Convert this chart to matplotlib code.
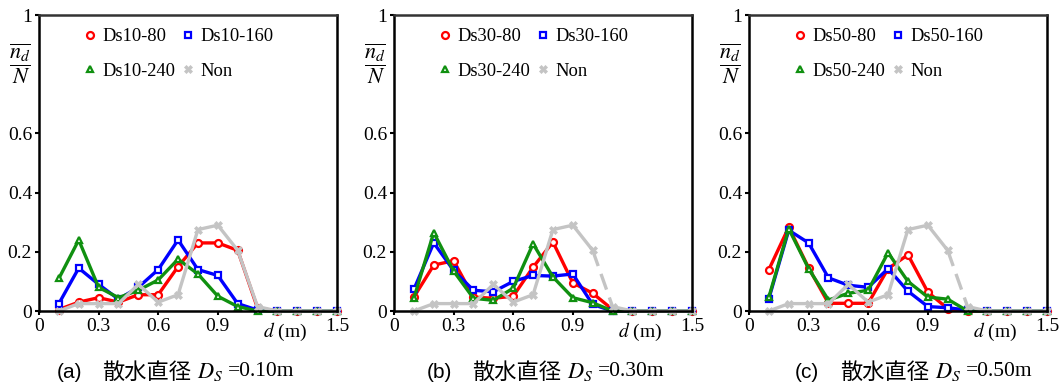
import numpy as np
import matplotlib
matplotlib.use("Agg")
import matplotlib.pyplot as plt

plt.rcParams['font.family'] = ['Liberation Serif', 'Noto Sans CJK JP']
plt.rcParams['mathtext.fontset'] = 'stix'

d = [0.1, 0.2, 0.3, 0.4, 0.5, 0.6, 0.7, 0.8, 0.9, 1.0, 1.1, 1.2, 1.3, 1.4, 1.5]

non = [0.0, 0.025, 0.025, 0.025, 0.09, 0.03, 0.055, 0.275, 0.29, 0.205, 0.015, 0, 0, 0, 0]

ds10_80 = [0.005, 0.03, 0.045, 0.03, 0.055, 0.055, 0.15, 0.23, 0.23, 0.205, 0.01, 0, 0, 0, 0]
ds10_160 = [0.025, 0.145, 0.09, 0.04, 0.08, 0.14, 0.24, 0.14, 0.12, 0.025, 0.003, 0, 0, 0, 0]
ds10_240 = [0.11, 0.24, 0.08, 0.045, 0.07, 0.105, 0.175, 0.125, 0.05, 0.015, 0, 0, 0, 0, 0]

ds30_80 = [0.047, 0.155, 0.17, 0.047, 0.043, 0.05, 0.148, 0.233, 0.095, 0.06, 0.005, 0, 0, 0, 0]
ds30_160 = [0.073, 0.23, 0.137, 0.07, 0.065, 0.1, 0.12, 0.118, 0.125, 0.022, 0, 0, 0, 0, 0]
ds30_240 = [0.043, 0.265, 0.135, 0.043, 0.036, 0.077, 0.227, 0.115, 0.045, 0.028, 0, 0, 0, 0, 0]

ds50_80 = [0.14, 0.283, 0.146, 0.026, 0.026, 0.026, 0.143, 0.19, 0.064, 0.008, 0, 0, 0, 0, 0]
ds50_160 = [0.042, 0.273, 0.23, 0.112, 0.087, 0.08, 0.143, 0.067, 0.015, 0.011, 0.003, 0, 0, 0, 0]
ds50_240 = [0.047, 0.278, 0.143, 0.037, 0.06, 0.07, 0.197, 0.1, 0.047, 0.04, 0, 0, 0, 0, 0]

panels = [
    ("10", ds10_80, ds10_160, ds10_240, "(a)", "=0.10m", False),
    ("30", ds30_80, ds30_160, ds30_240, "(b)", "=0.30m", True),
    ("50", ds50_80, ds50_160, ds50_240, "(c)", "=0.50m", True),
]

W, H = 1060, 387
fig = plt.figure(figsize=(W / 100, H / 100), dpi=100)

ax_left = [39, 394, 749]
cap_x = [57, 427, 795]   # left edge of "(a)" etc.

GRAY = '#c4c4c4'

for i, (ds, r, b, g, tag, dval, dashed_tail) in enumerate(panels):
    ax = fig.add_axes([ax_left[i] / W, 1 - 311 / H, 298 / W, 296 / H])
    kw = dict(lw=2.4, ms=5, mew=1.6, mfc='white', clip_on=False)
    l1, = ax.plot(d, r, color='red', marker='o', label=f"Ds{ds}-80", **kw)
    l2, = ax.plot(d, b, color='blue', marker='s', label=f"Ds{ds}-160", **kw)
    l3, = ax.plot(d, g, color='#109010', marker='^', label=f"Ds{ds}-240", **kw)
    gk = dict(color=GRAY, marker='X', ms=6, mew=0.5, lw=2.4, clip_on=False)
    if dashed_tail:
        l4, = ax.plot(d[:10], non[:10], label="Non", **gk)
        ax.plot(d[9:11], non[9:11], color=GRAY, lw=2.4, ls=(0, (5, 2.5)))
        ax.plot(d[10:], non[10:], **gk)
    else:
        l4, = ax.plot(d, non, label="Non", **gk)

    ax.set_xlim(0, 1.5)
    ax.set_ylim(0, 1)
    ax.set_xticks([0, 0.3, 0.6, 0.9, 1.5])
    ax.set_xticklabels(['0', '0.3', '0.6', '0.9', '1.5'])
    ax.set_yticks([0, 0.2, 0.4, 0.6, 1])
    ax.set_yticklabels(['0', '0.2', '0.4', '0.6', '1'])
    ax.tick_params(direction='out', length=3, width=1.5, labelsize=14, pad=2)
    for s in ax.spines.values():
        s.set_linewidth(1.8)
    ax.spines['top'].set_color('#333333')

    ax.text(1.24, -0.035, "$d$ (m)", transform=ax.get_xaxis_transform(),
            ha='center', va='top', fontsize=14)
    ax.text(-0.065, 0.835, r"$\dfrac{\overline{n_d}}{N}$", transform=ax.transAxes,
            ha='center', va='center', fontsize=16)

    leg = ax.legend([l1, l3, l2, l4], [l1.get_label(), l3.get_label(),
                                       l2.get_label(), l4.get_label()],
                    ncol=2, loc='upper left', bbox_to_anchor=(0.146, 0.955),
                    frameon=False, fontsize=13.3, handlelength=0.8,
                    handletextpad=0.3, columnspacing=0.25, labelspacing=0.95,
                    borderpad=0, borderaxespad=0)
    for h in leg.legend_handles:
        h.set_linestyle('none')

    y = 1 - 372 / H
    x0 = cap_x[i]
    fig.text(x0 / W, y, tag, family='Liberation Sans', fontsize=15,
             ha='left', va='center')
    fig.text((x0 + 45) / W, y, "散水直径", family='Noto Sans CJK JP', fontsize=16,
             ha='left', va='center')
    fig.text((x0 + 140) / W, y, "$D_S$", fontsize=16, ha='left', va='center')
    fig.text((x0 + 171) / W, y, dval, fontsize=15.5, ha='left', va='center')

fig.savefig("out.png", dpi=100)
